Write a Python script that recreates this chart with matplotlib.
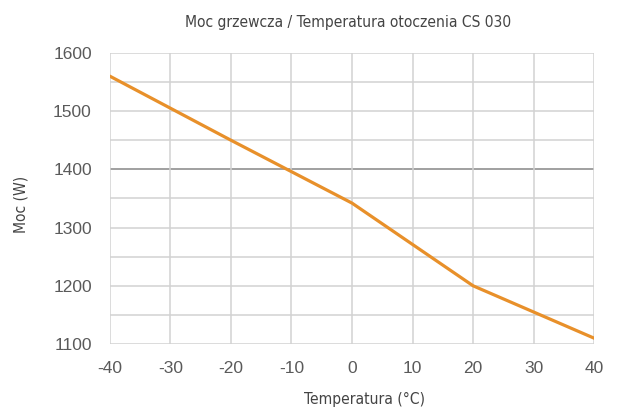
import matplotlib
matplotlib.use("Agg")
import matplotlib.pyplot as plt

temps = [-40, -30, -20, -10, 0, 10, 20, 30, 40]
power = [1560, 1505, 1450, 1396, 1342, 1271, 1200, 1155, 1110]
xticks = [-40, -30, -20, -10, 0, 10, 20, 30, 40]
yticks = [1100, 1200, 1300, 1400, 1500, 1600]
title = "Moc grzewcza / Temperatura otoczenia CS 030"
xlabel = "Temperatura (°C)"
ylabel = "Moc (W)"

fig = plt.figure(figsize=(6.17, 4.13), dpi=100)
ax = fig.add_axes([0.178, 0.167, 0.785, 0.705])

for y in range(1100, 1601, 50):
    ax.axhline(y, color="#a0a0a0" if y == 1400 else "#d2d2d2", lw=1.4 if y == 1400 else 1.1, zorder=1)
for x in xticks:
    ax.axvline(x, color="#d2d2d2", lw=1.1, zorder=1)

ax.plot(temps, power, color="#E8902A", lw=2.3, zorder=3, solid_capstyle="round")

ax.set_xlim(-40, 40)
ax.set_ylim(1100, 1600)
ax.set_xticks(xticks)
ax.set_yticks(yticks)
ax.set_xticklabels([str(t) for t in xticks], fontfamily="Liberation Sans", fontsize=12.5, color="#5a5a5a")
ax.set_yticklabels([str(t) for t in yticks], fontfamily="Liberation Sans", fontsize=12.5, color="#5a5a5a")
ax.tick_params(axis="x", length=0, pad=12)
ax.tick_params(axis="y", length=0, pad=13)
for s in ax.spines.values():
    s.set_visible(False)

lab = dict(fontfamily="DejaVu Sans", fontstretch="condensed", fontsize=11.2, color="#444444")
fig.text(0.564, 0.945, title, ha="center", va="center", **lab)
fig.text(0.034, 0.504, ylabel, rotation=90, ha="center", va="center", **lab)
fig.text(0.59, 0.032, xlabel, ha="center", va="center", **lab)

fig.savefig("out.png", dpi=100)
